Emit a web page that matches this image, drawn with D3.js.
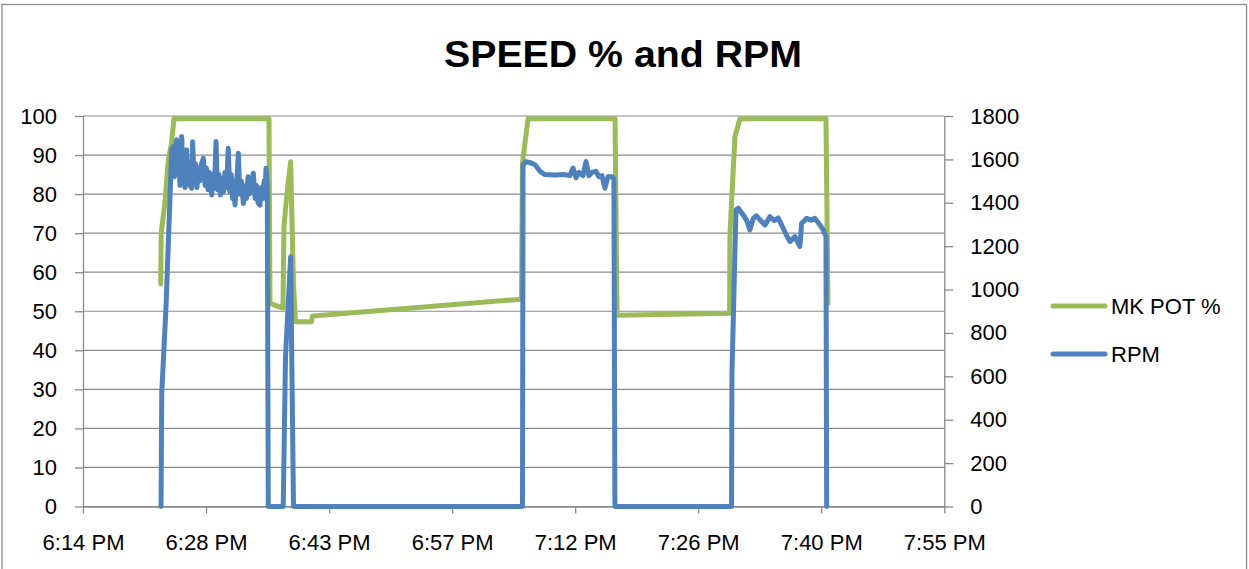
<!DOCTYPE html>
<html>
<head>
<meta charset="utf-8">
<script src="https://cdn.jsdelivr.net/npm/d3@7"></script>
<style>
body { margin: 0; background: #fff; }
text { font-family: "Liberation Sans", Arial, sans-serif; }
</style>
</head>
<body>
<script>
// data
var title = "SPEED % and RPM";
var seriesNames = ["MK POT %", "RPM"];
var xTicks = ["18:14:24", "18:28:48", "18:43:12", "18:57:36", "19:12:00", "19:26:24", "19:40:48", "19:55:12"];
var leftTicks = [0, 10, 20, 30, 40, 50, 60, 70, 80, 90, 100];
var rightTicks = [0, 200, 400, 600, 800, 1000, 1200, 1400, 1600, 1800];

var potTimes = ["18:23:30", "18:23:33", "18:24:00", "18:24:21", "18:24:45", "18:25:03", "18:36:10", "18:36:17",
    "18:37:48", "18:37:55", "18:38:16", "18:38:42", "18:39:02", "18:39:16", "18:41:08", "18:41:16",
    "19:05:43", "19:05:50", "19:06:29", "19:16:40", "19:16:54",
    "19:30:04", "19:30:07", "19:30:42", "19:31:17", "19:41:21", "19:41:35"];
var potValues = [57, 70, 78, 88, 93, 99.3, 99.3, 52,
    50.8, 71.6, 80, 88.3, 57, 47.3, 47.3, 48.8,
    53.1, 88, 99.3, 99.3, 49,
    49.5, 70, 94.7, 99.3, 99.3, 52];

var rpmTimes = ["18:23:32", "18:23:37", "18:24:07", "18:24:47", "18:24:58", "18:25:07", "18:25:14", "18:25:22",
    "18:25:31", "18:25:38", "18:25:45", "18:25:57", "18:26:06", "18:26:13", "18:26:20", "18:26:32",
    "18:26:41", "18:26:48", "18:26:55", "18:27:07", "18:27:14", "18:27:23", "18:27:34", "18:27:44",
    "18:27:55", "18:28:05", "18:28:16", "18:28:29", "18:28:41", "18:28:51", "18:29:02", "18:29:12",
    "18:29:28", "18:29:37", "18:29:47", "18:29:58", "18:30:08", "18:30:19", "18:30:29", "18:30:40",
    "18:30:50", "18:31:01", "18:31:12", "18:31:24", "18:31:35", "18:31:45", "18:31:54", "18:32:04",
    "18:32:11", "18:32:22", "18:32:35", "18:32:45", "18:32:56", "18:33:10", "18:33:22", "18:33:32",
    "18:33:43", "18:33:53", "18:34:04", "18:34:20", "18:34:32", "18:34:42", "18:34:53", "18:35:07",
    "18:35:17", "18:35:28", "18:35:36", "18:35:42", "18:35:49", "18:35:58", "18:36:05",
    "18:37:50", "18:38:06", "18:38:42", "18:39:02",
    "19:05:50", "19:05:54", "19:06:15", "19:06:43", "19:07:18", "19:07:53", "19:08:28", "19:09:38",
    "19:10:48", "19:11:23", "19:11:45", "19:12:06", "19:12:27", "19:12:55", "19:13:16", "19:13:37",
    "19:13:58", "19:14:26", "19:14:47", "19:15:08", "19:15:29", "19:15:50", "19:16:18", "19:16:32", "19:16:39",
    "19:30:18", "19:30:21", "19:30:49", "19:31:05", "19:31:40", "19:32:03", "19:32:27", "19:32:51",
    "19:33:13", "19:33:38", "19:34:13", "19:34:48", "19:35:16", "19:35:46", "19:36:21", "19:36:44",
    "19:37:08", "19:37:43", "19:38:18", "19:38:30", "19:39:06", "19:39:36", "19:40:04", "19:40:39",
    "19:41:02", "19:41:21", "19:41:26"];
var rpmValues = [0, 523, 921, 1643, 1659, 1520, 1640, 1690,
    1540, 1620, 1480, 1706, 1520, 1600, 1470, 1644,
    1500, 1560, 1480, 1467, 1681, 1520, 1580, 1470,
    1560, 1502, 1580, 1605, 1480, 1560, 1460, 1540,
    1436, 1530, 1470, 1682, 1460, 1530, 1436, 1510,
    1450, 1540, 1470, 1651, 1450, 1530, 1420, 1500,
    1390, 1480, 1628, 1440, 1500, 1397, 1480, 1420,
    1520, 1440, 1480, 1536, 1420, 1480, 1400, 1389,
    1470, 1420, 1500, 1422, 1559, 1470, 0,
    0, 690, 1151, 0,
    0, 1574, 1590, 1585, 1575, 1545, 1530, 1528,
    1530, 1525, 1560, 1515, 1540, 1525, 1590, 1525,
    1540, 1545, 1520, 1525, 1467, 1520, 1520, 1510, 0,
    0, 614, 1367, 1375, 1344, 1320, 1275, 1328,
    1340, 1321, 1298, 1336, 1318, 1330, 1282, 1250,
    1221, 1244, 1198, 1305, 1328, 1320, 1328, 1298,
    1275, 1244, 0];

var width = 1249, height = 569;
var plotL = 83, plotR = 944.3, plotT = 116, plotB = 506.5;
var gray = "#8a8a8a";
var green = "#9BBB59", blue = "#4F81BD";

var parseT = d3.timeParse("%H:%M:%S");
var potData = potTimes.map(function (t, i) { return { t: parseT(t), v: potValues[i] }; });
var rpmData = rpmTimes.map(function (t, i) { return { t: parseT(t), v: rpmValues[i] }; });
var tickDates = xTicks.map(parseT);

var x = d3.scaleTime().domain([tickDates[0], tickDates[tickDates.length - 1]]).range([plotL, plotR]);
var yL = d3.scaleLinear().domain([0, 100]).range([plotB, plotT]);
var yR = d3.scaleLinear().domain([0, 1800]).range([plotB, plotT]);

var svg = d3.select("body").append("svg")
    .attr("width", width)
    .attr("height", height);

//外枠
svg.append("rect")
    .attr("x", 2).attr("y", 4.5)
    .attr("width", 1244.5).attr("height", 620)
    .attr("fill", "#fff")
    .attr("stroke", gray)
    .attr("stroke-width", 1.3);

//タイトル
svg.append("text")
    .attr("x", 623).attr("y", 67)
    .attr("text-anchor", "middle")
    .attr("font-size", "36px")
    .attr("font-weight", "bold")
    .attr("textLength", 358)
    .attr("lengthAdjust", "spacingAndGlyphs")
    .text(title);

//グリッド
svg.append("g").selectAll("line")
    .data(leftTicks)
    .enter()
    .append("line")
    .attr("x1", plotL).attr("x2", plotR)
    .attr("y1", function (d) { return yL(d); })
    .attr("y2", function (d) { return yL(d); })
    .attr("stroke", gray)
    .attr("stroke-width", 1.2);

function styleAxis(g) {
    g.selectAll(".domain").attr("stroke", gray).attr("stroke-width", 1.3);
    g.selectAll(".tick line").attr("stroke", gray).attr("stroke-width", 1.3);
    g.selectAll("text").attr("font-size", "22px").attr("fill", "#000")
        .attr("font-family", "'Liberation Sans', Arial, sans-serif");
}

var fmt = d3.timeFormat("%-I:%M %p");
var xAxis = svg.append("g")
    .attr("transform", "translate(0," + plotB + ")")
    .call(d3.axisBottom(x).tickValues(tickDates).tickFormat(fmt).tickSize(7).tickSizeOuter(0).tickPadding(21));
styleAxis(xAxis);

var leftAxis = svg.append("g")
    .attr("transform", "translate(" + plotL + ",0)")
    .call(d3.axisLeft(yL).tickValues(leftTicks).tickSize(8).tickSizeOuter(0).tickPadding(18));
styleAxis(leftAxis);

var rightAxis = svg.append("g")
    .attr("transform", "translate(" + plotR + ",0)")
    .call(d3.axisRight(yR).tickValues(rightTicks).tickFormat(d3.format("d")).tickSize(9).tickSizeOuter(0).tickPadding(17));
styleAxis(rightAxis);

//系列
var potLine = d3.line()
    .x(function (d) { return x(d.t); })
    .y(function (d) { return yL(d.v); });
var rpmLine = d3.line()
    .x(function (d) { return x(d.t); })
    .y(function (d) { return yR(d.v); });

svg.append("path")
    .datum(potData)
    .attr("d", potLine)
    .attr("fill", "none")
    .attr("stroke", green)
    .attr("stroke-width", 5)
    .attr("stroke-linejoin", "round")
    .attr("stroke-linecap", "round");

svg.append("path")
    .datum(rpmData)
    .attr("d", rpmLine)
    .attr("fill", "none")
    .attr("stroke", blue)
    .attr("stroke-width", 5)
    .attr("stroke-linejoin", "round")
    .attr("stroke-linecap", "round");

//凡例
var legend = svg.append("g").selectAll("g")
    .data(seriesNames)
    .enter()
    .append("g")
    .attr("transform", function (d, i) { return "translate(0," + (306 + i * 48) + ")"; });
legend.append("line")
    .attr("x1", 1053).attr("x2", 1105)
    .attr("y1", 0).attr("y2", 0)
    .attr("stroke", function (d, i) { return i == 0 ? green : blue; })
    .attr("stroke-width", 5)
    .attr("stroke-linecap", "round");
legend.append("text")
    .attr("x", 1111).attr("y", 8)
    .attr("font-size", "22px")
    .text(function (d) { return d; });
</script>
</body>
</html>
